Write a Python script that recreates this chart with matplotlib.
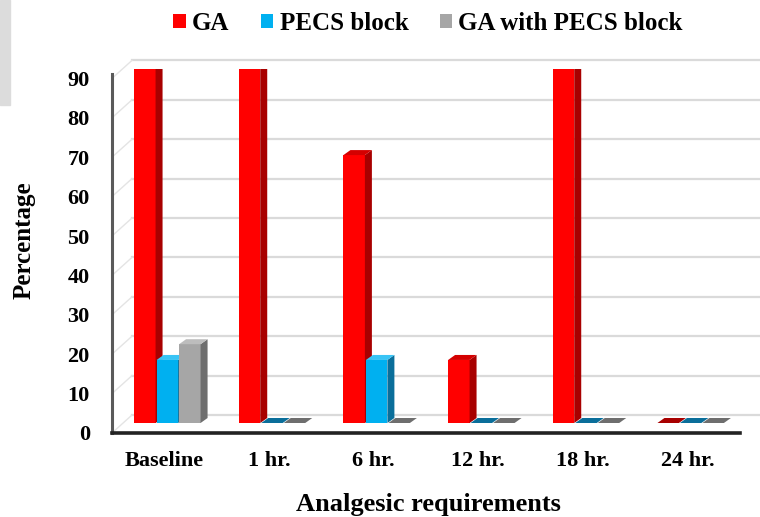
import matplotlib
matplotlib.use("Agg")
import matplotlib.pyplot as plt
from matplotlib.patches import Polygon, Rectangle

# Analgesic requirement (%) by time point
categories = ["Baseline", "1 hr.", "6 hr.", "12 hr.", "18 hr.", "24 hr."]
series_names = ["GA", "PECS block", "GA with PECS block"]
ga = [90, 90, 68, 16, 90, 0]
pecs = [16, 0, 16, 0, 0, 0]
ga_pecs = [20, 0, 0, 0, 0, 0]
yticks = [0, 10, 20, 30, 40, 50, 60, 70, 80, 90]

front_colors = ["#ff0000", "#00b0f0", "#a6a6a6"]
side_colors = ["#a80000", "#0a6e9a", "#6e6e6e"]
top_colors = ["#d40000", "#39c4f5", "#bdbdbd"]

plt.rcParams["font.family"] = ["Liberation Serif", "DejaVu Serif"]
plt.rcParams["font.weight"] = "bold"

W, H, DPI = 760, 517, 100
fig = plt.figure(figsize=(W / DPI, H / DPI), dpi=DPI)

left_px, right_px, bottom_px = 112, 740, 433
ymax = 92.5
px_per_y = 3.94
top_px = bottom_px - ymax * px_per_y
ax_h_px = bottom_px - top_px
ax_w_px = right_px - left_px
ax = fig.add_axes([left_px / W, (H - bottom_px) / H, ax_w_px / W, ax_h_px / H])
n = len(categories)
ax.set_xlim(-0.5, n - 0.5)
ax.set_ylim(0, ymax)
px_per_x = ax_w_px / n


def dx(px):
    return px / px_per_x


def dy(px):
    return px / px_per_y


# light gray corner block
fig.patches.append(Rectangle((0, (H - 105) / H), 10 / W, 105 / H,
                             transform=fig.transFigure, color="#dcdcdc", zorder=0))

# back wall gridlines and left wall edges
wall_dx, wall_dy = dx(20), dy(18)
for v in yticks:
    ax.plot([-0.5 + wall_dx, n - 0.5 + wall_dx * 1.2], [v + wall_dy, v + wall_dy],
            color="#dadada", lw=1.6, clip_on=False, zorder=1)
    ax.plot([-0.5, -0.5 + wall_dx], [v, v + wall_dy],
            color="#e4e4e4", lw=1.0, clip_on=False, zorder=1)

# 3D-style columns
bar_w = 0.205
shift_x, base_y = dx(3), dy(10)
depth_x, depth_y = dx(7), dy(5)
offsets = [-0.215, 0.0, 0.215]
for s, vals in enumerate([ga, pecs, ga_pecs]):
    xs = [i + offsets[s] + shift_x for i in range(n)]
    ax.bar(xs, vals, width=bar_w, bottom=base_y, color=front_colors[s],
           zorder=3 + s, label=series_names[s], linewidth=0)
    for x, v in zip(xs, vals):
        x0, x1 = x - bar_w / 2, x + bar_w / 2
        top = base_y + v
        side = Polygon([(x1, base_y), (x1, top), (x1 + depth_x, top + depth_y),
                        (x1 + depth_x, base_y + depth_y)],
                       closed=True, color=side_colors[s], lw=0, zorder=3 + s)
        cap = Polygon([(x0, top), (x1, top), (x1 + depth_x, top + depth_y),
                       (x0 + depth_x, top + depth_y)],
                      closed=True, color=top_colors[s] if v > 0 else side_colors[s],
                      lw=0, zorder=3 + s)
        ax.add_patch(side)
        ax.add_patch(cap)

for sp in ["top", "right"]:
    ax.spines[sp].set_visible(False)
ax.spines["left"].set_color("#5a5a5a")
ax.spines["left"].set_linewidth(2.2)
ax.spines["left"].set_bounds(0, 91)
ax.spines["bottom"].set_color("#222222")
ax.spines["bottom"].set_linewidth(2.6)
ax.patch.set_alpha(0)

ax.set_yticks(yticks)
ax.set_yticklabels([str(t) for t in yticks], fontsize=16, fontweight="bold")
ax.set_xticks(range(n))
ax.set_xticklabels(categories, fontsize=16, fontweight="bold")
ax.tick_params(axis="y", length=0, pad=16)
ax.tick_params(axis="x", length=0, pad=13)

ax.set_ylabel("Percentage", fontsize=18, fontweight="bold", va="center")
ax.yaxis.set_label_coords((24 - left_px) / ax_w_px, (bottom_px - 240) / ax_h_px)
ax.set_xlabel("Analgesic requirements", fontsize=19, fontweight="bold", va="center")
ax.xaxis.set_label_coords((428 - left_px) / ax_w_px, (bottom_px - 504) / ax_h_px)

leg = fig.legend(loc="center", bbox_to_anchor=(428 / W, 1 - 23 / H), ncol=3,
                 frameon=False, handlelength=0.5, handleheight=0.5,
                 handletextpad=0.25, columnspacing=1.25,
                 prop={"weight": "bold", "size": 18})

fig.savefig("out.png", dpi=DPI)
